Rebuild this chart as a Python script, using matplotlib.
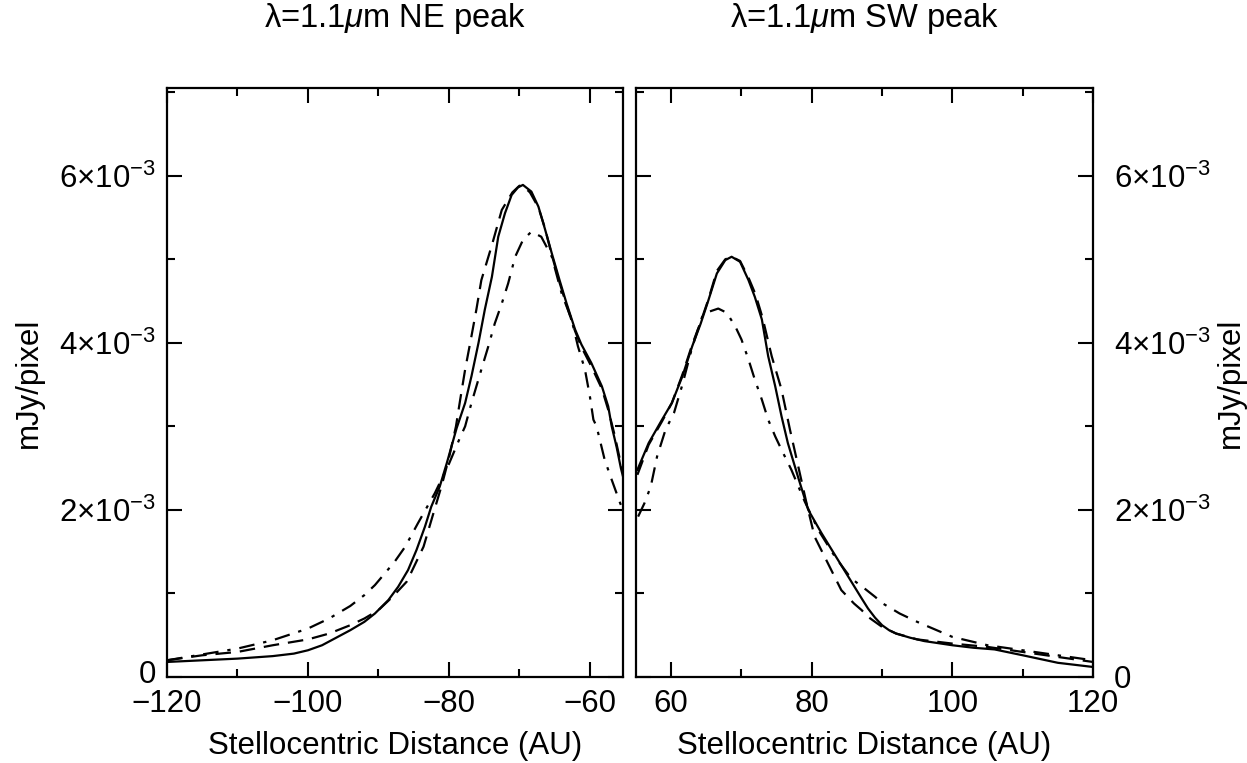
import matplotlib
matplotlib.use("Agg")
import matplotlib.pyplot as plt
import matplotlib.transforms as mtransforms
from matplotlib.ticker import MultipleLocator, FuncFormatter

plt.rcParams['font.family'] = ['Liberation Sans', 'DejaVu Sans']
plt.rcParams['mathtext.fontset'] = 'custom'
plt.rcParams['mathtext.rm'] = 'Liberation Sans'
plt.rcParams['mathtext.it'] = 'Liberation Sans:italic'
plt.rcParams['font.size'] = 22.5

# NE peak (left panel), distances in AU, fluxes in 1e-3 mJy/pixel
ne_solid_x = [-120, -115, -110, -105, -102, -100, -98, -96, -94, -92, -90.5, -88.6, -87.2,
              -85.8, -84.6, -83.4, -82.5, -81.3, -80.3, -78.9, -77.7, -76.8, -75.8, -74.9,
              -73.9, -73.0, -72.05, -71.1, -70.2, -69.5, -68.3, -67.3, -66.4, -65.4, -64.3,
              -63.3, -62.1, -61.2, -59.8, -58.3, -57.4, -56.9, -56.2, -55.6, -55.3]
ne_solid_y = [0.18, 0.20, 0.22, 0.25, 0.28, 0.32, 0.38, 0.47, 0.56, 0.66, 0.76, 0.92, 1.08,
              1.28, 1.52, 1.80, 2.04, 2.28, 2.56, 2.98, 3.28, 3.60, 4.00, 4.40,
              4.79, 5.27, 5.55, 5.77, 5.86, 5.89, 5.81, 5.63, 5.37, 5.07, 4.75,
              4.47, 4.16, 3.98, 3.76, 3.48, 3.24, 3.00, 2.75, 2.50, 2.40]

ne_dash_x = [-120, -115, -110, -105, -100, -97, -94, -92, -90, -88, -86, -85.3, -83.6, -82.2,
             -81, -80, -79, -78.4, -77.7, -76.8, -76.1, -75.4, -73.9, -72.5, -71, -70, -69.5,
             -68.5, -67.3, -66.4, -65.4, -64.3, -63.3, -62.1, -61.2, -59.8, -58.3, -57.4,
             -56.5, -55.6, -55.3]
ne_dash_y = [0.20, 0.26, 0.30, 0.38, 0.45, 0.52, 0.62, 0.70, 0.80, 0.96, 1.14, 1.26, 1.56, 1.96,
             2.30, 2.62, 3.00, 3.32, 3.68, 4.08, 4.40, 4.75, 5.17, 5.59, 5.80, 5.88, 5.88,
             5.80, 5.62, 5.38, 5.05, 4.72, 4.45, 4.14, 3.95, 3.72, 3.45, 3.20,
             2.90, 2.55, 2.45]

ne_dd_x = [-120, -115, -110, -105, -100, -97, -94, -92, -90.5, -89.1, -87.7, -86.2, -84.4, -82.0,
           -80, -78.5, -77.7, -76.8, -75.4, -74.4, -73.5, -72.5, -71.6, -70.6, -69.5, -68.3,
           -66.9, -65.4, -64.0, -62.6, -61.7, -60.7, -60.0, -59.5, -59.05, -57.9, -56.9,
           -55.7, -55.3]
ne_dd_y = [0.20, 0.27, 0.34, 0.44, 0.58, 0.70, 0.85, 0.98, 1.10, 1.24, 1.38, 1.56, 1.84, 2.20,
           2.55, 2.85, 3.00, 3.28, 3.68, 3.96, 4.23, 4.47, 4.71, 5.03, 5.23, 5.33,
           5.27, 5.03, 4.59, 4.28, 3.96, 3.68, 3.36, 3.08, 3.00, 2.60, 2.36,
           2.08, 2.00]

# SW peak (right panel)
sw_solid_x = [55.2, 56.8, 58.7, 60.1, 61.6, 63.0, 64.2, 65.3, 66.5, 67.7, 68.6, 69.8, 71.0,
              71.9, 72.9, 73.8, 74.8, 75.7, 76.6, 78.1, 79.5, 81.4, 83.3, 85.2, 87.1, 88.0,
              89.0, 90.0, 91.0, 92.0, 94.0, 96.0, 100, 103, 106, 110, 115, 120]
sw_solid_y = [2.48, 2.80, 3.08, 3.28, 3.60, 3.96, 4.23, 4.51, 4.83, 4.99, 5.03, 4.97, 4.75,
              4.55, 4.28, 3.84, 3.48, 3.12, 2.80, 2.38, 2.00, 1.72, 1.46, 1.20, 0.94, 0.82,
              0.71, 0.62, 0.56, 0.52, 0.47, 0.43, 0.38, 0.35, 0.33, 0.26, 0.17, 0.12]

sw_dash_x = [55.2, 56.8, 58.7, 60.1, 61.6, 63.0, 64.2, 65.3, 66.5, 67.7, 68.6, 69.8, 71.0, 72,
             73.0, 74.3, 75.7, 76.9, 78, 79.2, 80.4, 82.3, 84.2, 86.0, 87.1, 88.0, 89.0, 90.0,
             92.0, 95, 100, 105, 110, 115, 120]
sw_dash_y = [2.42, 2.78, 3.06, 3.28, 3.62, 3.98, 4.25, 4.52, 4.86, 5.00, 5.03, 4.98, 4.78, 4.58,
             4.30, 3.84, 3.44, 2.96, 2.55, 2.10, 1.68, 1.36, 1.04, 0.88, 0.80, 0.72, 0.66, 0.60,
             0.52, 0.45, 0.40, 0.36, 0.30, 0.24, 0.18]

sw_dd_x = [55.3, 56.2, 57.1, 58.0, 59.2, 60.4, 61.6, 63.0, 64.4, 65.3, 66.7, 67.9, 69.1, 70.0,
           71.0, 71.9, 72.9, 73.8, 74.8, 75.7, 77.1, 79, 81, 83.3, 85.6, 87.5, 89.0, 90.1, 92.5,
           95, 100, 105, 110, 115, 120]
sw_dd_y = [1.92, 2.08, 2.28, 2.64, 2.96, 3.16, 3.50, 3.95, 4.31, 4.37, 4.41, 4.36, 4.20, 4.04,
           3.80, 3.56, 3.32, 3.08, 2.88, 2.72, 2.48, 2.10, 1.75, 1.44, 1.18, 1.06, 0.96, 0.88,
           0.76, 0.66, 0.48, 0.38, 0.32, 0.26, 0.20]

titles = ['\u03bb=1.1$\\mu$m NE peak', '\u03bb=1.1$\\mu$m SW peak']
xlabel = 'Stellocentric Distance (AU)'
ylabel = 'mJy/pixel'


def ytick_fmt(v, pos):
    n = int(round(v * 1e3))
    if n == 0:
        return '0'
    return r'$%d{\times}10^{-3}$' % n


fig = plt.figure(figsize=(12.47, 7.63), dpi=100)
W, H = 1247.0, 763.0
ax1 = fig.add_axes([167 / W, 1 - 677 / H, 456 / W, 589 / H])
ax2 = fig.add_axes([636 / W, 1 - 677 / H, 457 / W, 589 / H])

dash = (0, (7, 4))
dashdot = (0, (7, 4, 1.5, 4))

for ax, xs, ys in [(ax1, (ne_solid_x, ne_dash_x, ne_dd_x), (ne_solid_y, ne_dash_y, ne_dd_y)),
                   (ax2, (sw_solid_x, sw_dash_x, sw_dd_x), (sw_solid_y, sw_dash_y, sw_dd_y))]:
    ax.plot(xs[0], [v * 1e-3 for v in ys[0]], color='black', lw=1.6, ls='-')
    ax.plot(xs[1], [v * 1e-3 for v in ys[1]], color='black', lw=1.6, ls=dash)
    ax.plot(xs[2], [v * 1e-3 for v in ys[2]], color='black', lw=1.6, ls=dashdot)
    ax.set_ylim(0, 7.05e-3)
    ax.yaxis.set_major_locator(MultipleLocator(2e-3))
    ax.yaxis.set_minor_locator(MultipleLocator(1e-3))
    ax.xaxis.set_major_locator(MultipleLocator(20))
    ax.xaxis.set_minor_locator(MultipleLocator(10))
    ax.yaxis.set_major_formatter(FuncFormatter(ytick_fmt))
    ax.tick_params(which='both', direction='in', top=True, right=True, width=1.5)
    ax.tick_params(which='major', length=11)
    ax.tick_params(which='minor', length=6)
    ax.tick_params(axis='x', which='major', pad=8.5)
    for s in ax.spines.values():
        s.set_linewidth(1.6)
    ax.set_xlabel(xlabel, labelpad=9)

ax1.set_xlim(-120, -55.3)
ax2.set_xlim(55.0, 120)

ax1.tick_params(axis='y', which='major', pad=8)
ax1.set_ylabel(ylabel, labelpad=11)
ax2.tick_params(axis='y', which='both', labelleft=False, labelright=True)
ax2.tick_params(axis='y', which='major', pad=15)
ax2.yaxis.set_label_position('right')
ax2.set_ylabel(ylabel, rotation=90, labelpad=4)

# lift the "0" label a little so it clears the -120 label below it
fig.canvas.draw()
shift = mtransforms.ScaledTranslation(0, 4 / 72.0, fig.dpi_scale_trans)
for lab in ax1.get_yticklabels():
    if lab.get_text() == '0':
        lab.set_transform(lab.get_transform() + shift)

fig.text((167 + 623) / 2 / W, 1 - 19 / H, titles[0], ha='center', va='center', fontsize=23.5)
fig.text((636 + 1093) / 2 / W, 1 - 19 / H, titles[1], ha='center', va='center', fontsize=23.5)

fig.savefig('out.png', dpi=100)
